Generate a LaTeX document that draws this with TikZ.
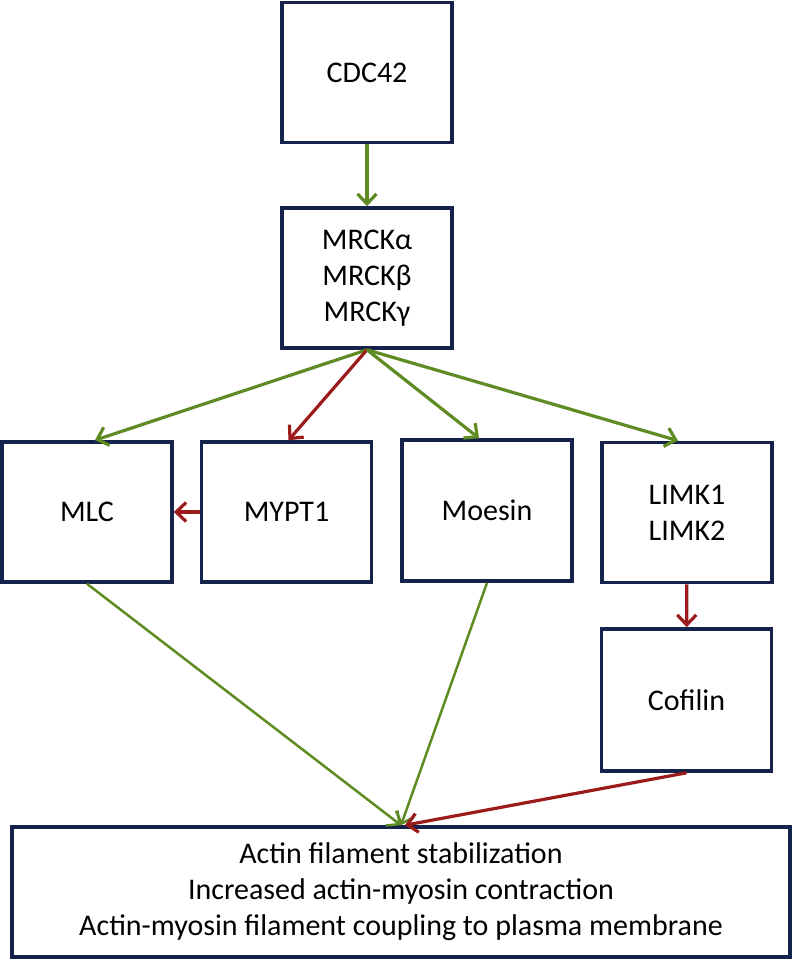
\documentclass[tikz,border=0pt]{standalone}
\usepackage{fontspec}
\setmainfont{Carlito}
\usepackage{xcolor}
\definecolor{BoxNavy}{RGB}{20,34,76}
\definecolor{ActGreen}{RGB}{94,140,34}
\definecolor{InhRed}{RGB}{155,26,26}
\usepackage{tikz}
\usetikzlibrary{arrows.meta, positioning}

\tikzset{
  protein/.style={draw=BoxNavy, fill=white, line width=3.6pt, minimum width=170pt, minimum height=140pt, inner sep=0pt, align=center, font=\fontsize{30}{36}\selectfont},
  activates/.style={ActGreen, line width=3.2pt, -{Straight Barb[length=10pt, width=19pt]}},
  inhibits/.style={InhRed, line width=3.2pt, -{Straight Barb[length=10pt, width=19pt]}}
}

\begin{document}
\begin{tikzpicture}[x=1pt, y=-1pt]
    \useasboundingbox (0, 0) rectangle (792, 960);
    \node[protein] (cdc) at (367, 72.5) {CDC42};
    \node[protein] (mrck) at (367, 278) {MRCKα\\MRCKβ\\MRCKγ};
    \node[protein] (mlc) at (87, 512) {MLC};
    \node[protein] (mypt) at (286.5, 512) {MYPT1};
    \node[protein, minimum height=141pt] (moesin) at (487, 510.5) {Moesin};
    \node[protein] (limk) at (687, 512.5) {LIMK1\\LIMK2};
    \node[protein, minimum height=142pt] (cofilin) at (686.5, 700) {Cofilin};
    \node[protein, minimum width=778pt, minimum height=130pt] (effect) at (401, 892) {Actin filament stabilization\\Increased actin-myosin contraction\\Actin-myosin filament coupling to plasma membrane};
    \draw [activates] (cdc) -- (mrck);
    \draw [activates] (mrck.south) -- ([xshift=8pt]mlc.north);
    \draw [inhibits] (mrck.south) -- ([xshift=2pt]mypt.north);
    \draw [activates] (mrck.south) -- ([xshift=-8pt]moesin.north);
    \draw [activates] (mrck.south) -- ([xshift=-9pt]limk.north);
    \draw [inhibits] (mypt.west) -- (mlc.east);
    \draw [inhibits] (limk) -- (cofilin);
    \draw [activates, line width=2.5pt] (mlc.south) -- (effect.north);
    \draw [activates, line width=2.5pt] (moesin.south) -- (effect.north);
    \draw [inhibits] (cofilin.south) -- ([xshift=4pt]effect.north);
  \end{tikzpicture}
\end{document}
